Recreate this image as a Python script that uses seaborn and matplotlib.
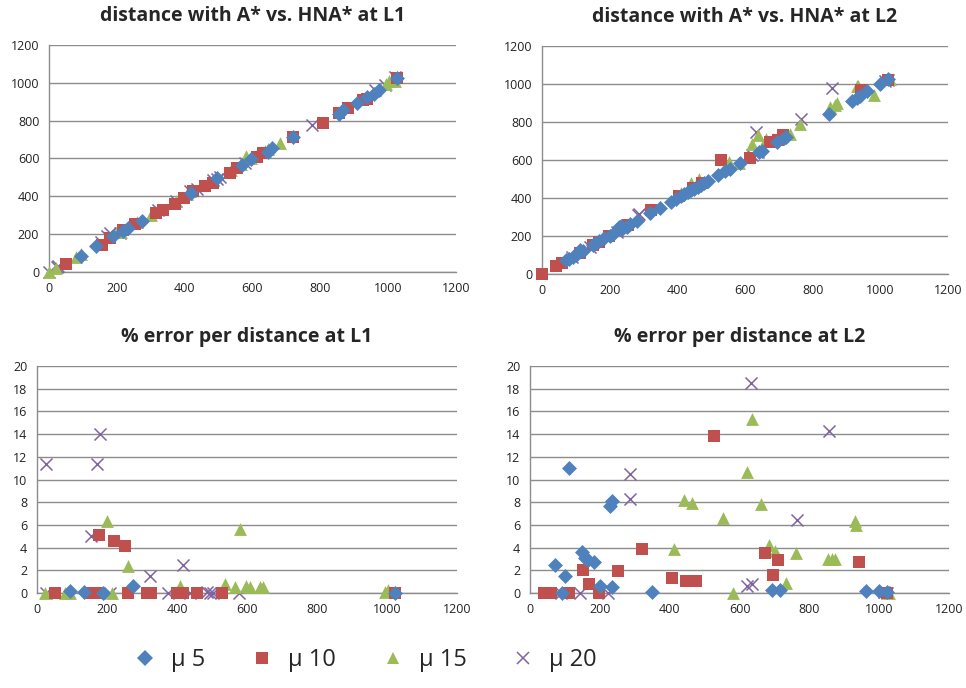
import numpy as np
import pandas as pd
import matplotlib
matplotlib.use("Agg")
import matplotlib.pyplot as plt
import seaborn as sns

sns.set_theme(style="white")
plt.rcParams["font.family"] = ["Open Sans", "DejaVu Sans"]

# ---- data ------------------------------------------------------------------
# top-left: distance A* (x) vs HNA* (y) at L1
L1_MU5_A   = [95, 138, 189, 217, 233, 273, 420, 494, 568, 595, 647, 657, 719, 854, 868, 908, 937, 957, 972, 1026]
L1_MU5_H   = [86, 139, 192, 214, 232, 272, 420, 496, 566, 596, 636, 654, 715, 833, 856, 895, 926, 940, 961, 1023]
L1_MU10_A  = [51, 155, 179, 219, 253, 315, 335, 371, 398, 425, 460, 484, 534, 555, 612, 632, 719, 807, 854, 883, 927, 937, 1026]
L1_MU10_H  = [44, 144, 179, 220, 255, 311, 325, 360, 390, 430, 452, 469, 525, 548, 610, 627, 712, 789, 838, 865, 909, 917, 1023]
L1_MU15_A  = [0, 22, 79, 93, 200, 213, 260, 300, 375, 408, 537, 566, 580, 597, 609, 637, 647, 680, 995, 1004, 1020]
L1_MU15_H  = [0, 22, 79, 93, 213, 213, 266, 300, 375, 410, 541, 569, 613, 600, 612, 642, 652, 680, 996, 1007, 1010]
L1_MU20_A  = [0, 25, 27, 153, 170, 179, 208, 322, 375, 416, 437, 485, 494, 504, 578, 775, 960, 990, 1020]
L1_MU20_H  = [0, 25, 30, 160, 189, 204, 208, 327, 375, 426, 437, 485, 494, 504, 578, 775, 960, 990, 1030]

# top-right: distance A* (x) vs HNA* (y) at L2
L2_MU5_A   = [71, 80, 91, 100, 112, 120, 150, 158, 167, 183, 200, 210, 228, 234, 236, 250, 260, 280, 320,
              348, 380, 395, 410, 420, 430, 440, 450, 460, 470, 480, 490, 520, 540, 555, 585, 640, 650,
              694, 715, 720, 848, 915, 930, 940, 961, 1000, 1023]
L2_MU5_H   = [73, 80, 91, 101, 124, 120, 155, 163, 172, 188, 201, 210, 245, 253, 237, 250, 262, 280, 320,
              348, 380, 395, 410, 420, 430, 440, 450, 460, 470, 480, 490, 520, 540, 555, 585, 640, 650,
              696, 717, 720, 843, 910, 925, 935, 963, 1002, 1024]
L2_MU10_A  = [0, 40, 59, 112, 152, 169, 198, 253, 322, 406, 446, 474, 528, 616, 673, 697, 711, 942, 1023]
L2_MU10_H  = [0, 40, 59, 112, 155, 170, 198, 258, 335, 411, 451, 479, 600, 609, 696, 708, 732, 968, 1023]
L2_MU15_A  = [412, 441, 465, 553, 582, 620, 637, 661, 684, 701, 732, 763, 852, 866, 873, 931, 935, 982, 1023, 1028]
L2_MU15_H  = [428, 477, 502, 589, 582, 686, 734, 713, 713, 727, 739, 790, 878, 892, 899, 990, 991, 944, 1024, 1028]
L2_MU20_A  = [88, 143, 223, 286, 285, 621, 637, 633, 766, 856, 1014, 1023]
L2_MU20_H  = [88, 143, 223, 316, 309, 625, 642, 750, 815, 978, 1015, 1023]

# bottom-left: % error per distance at L1
E1_MU5_D   = [95, 134, 189, 275, 1024]
E1_MU5_E   = [0.2, 0.1, 0.0, 0.65, 0.0]
E1_MU10_D  = [51, 151, 170, 176, 220, 251, 259, 313, 327, 399, 418, 458, 528, 1024]
E1_MU10_E  = [0, 0, 0, 5.1, 4.6, 4.1, 0, 0, 0, 0, 0, 0, 0, 0]
E1_MU15_D  = [22, 79, 93, 200, 213, 260, 408, 537, 566, 580, 597, 609, 637, 647, 995, 1004]
E1_MU15_E  = [0, 0, 0, 6.35, 0, 2.4, 0.6, 0.8, 0.5, 5.6, 0.6, 0.5, 0.5, 0.5, 0.1, 0.3]
E1_MU20_D  = [25, 27, 153, 170, 179, 208, 322, 375, 416, 437, 485, 494, 504, 578]
E1_MU20_E  = [0, 11.4, 5.0, 11.4, 14.0, 0, 1.5, 0, 2.5, 0, 0.1, 0, 0, 0]

# bottom-right: % error per distance at L2
E2_MU5_D   = [71, 91, 100, 112, 150, 158, 167, 183, 200, 228, 234, 236, 348, 694, 715, 961, 1000, 1023]
E2_MU5_E   = [2.5, 0, 1.5, 11.0, 3.6, 3.1, 2.9, 2.7, 0.6, 7.7, 8.1, 0.5, 0.1, 0.3, 0.3, 0.2, 0.2, 0.1]
E2_MU10_D  = [40, 59, 112, 152, 169, 198, 253, 322, 406, 446, 474, 528, 673, 697, 711, 942, 1023]
E2_MU10_E  = [0, 0, 0, 2.0, 0.8, 0, 1.9, 3.9, 1.3, 1.1, 1.05, 13.8, 3.5, 1.6, 2.95, 2.7, 0]
E2_MU15_D  = [412, 441, 465, 553, 582, 620, 637, 661, 684, 701, 732, 763, 852, 866, 873, 931, 935, 1023, 1028]
E2_MU15_E  = [3.9, 8.2, 7.9, 6.6, 0, 10.7, 15.3, 7.8, 4.2, 3.7, 0.9, 3.5, 3.0, 3.0, 3.0, 6.3, 6.0, 0.1, 0]
E2_MU20_D  = [88, 143, 223, 286, 285, 621, 637, 633, 766, 856, 1014, 1023]
E2_MU20_E  = [0, 0, 0, 10.5, 8.3, 0.6, 0.8, 18.5, 6.4, 14.3, 0.1, 0]

LABELS  = ["\u03bc 5", "\u03bc 10", "\u03bc 15", "\u03bc 20"]
COLORS  = ["#4F81BD", "#C0504D", "#9BBB59", "#8064A2"]
MARKERS = ["D", "s", "^", "x"]
SIZES   = [58, 85, 85, 75]

TITLES = ["distance with A* vs. HNA* at L1", "distance with A* vs. HNA* at L2",
          "% error per distance at L1", "% error per distance at L2"]

panels = [
    [(L1_MU5_A, L1_MU5_H), (L1_MU10_A, L1_MU10_H), (L1_MU15_A, L1_MU15_H), (L1_MU20_A, L1_MU20_H)],
    [(L2_MU5_A, L2_MU5_H), (L2_MU10_A, L2_MU10_H), (L2_MU15_A, L2_MU15_H), (L2_MU20_A, L2_MU20_H)],
    [(E1_MU5_D, E1_MU5_E), (E1_MU10_D, E1_MU10_E), (E1_MU15_D, E1_MU15_E), (E1_MU20_D, E1_MU20_E)],
    [(E2_MU5_D, E2_MU5_E), (E2_MU10_D, E2_MU10_E), (E2_MU15_D, E2_MU15_E), (E2_MU20_D, E2_MU20_E)],
]

# axes rectangles in figure fractions (left, bottom, width, height)
RECTS = [
    (0.0507, 0.6047, 0.4213, 0.3299),
    (0.5611, 0.6017, 0.4203, 0.3314),
    (0.0383, 0.1381, 0.4348, 0.3299),
    (0.5487, 0.1381, 0.4337, 0.3299),
]

fig = plt.figure(figsize=(9.66, 6.88), dpi=100)
for k, (rect, series, title) in enumerate(zip(RECTS, panels, TITLES)):
    ax = fig.add_axes(rect)
    for i, (xs, ys) in enumerate(series):
        df = pd.DataFrame({"x": xs, "y": ys})
        kw = dict(linewidth=1.1) if MARKERS[i] == "x" else dict(linewidth=0)
        sns.scatterplot(data=df, x="x", y="y", ax=ax, color=COLORS[i], marker=MARKERS[i],
                        s=SIZES[i], zorder=3 + (3 - i), clip_on=False, **kw)
    ax.set_xlim(0, 1200)
    ax.set_xticks(range(0, 1201, 200))
    if k < 2:
        ax.set_ylim(0, 1200)
        ax.set_yticks(range(0, 1201, 200))
    else:
        ax.set_ylim(0, 20)
        ax.set_yticks(range(0, 21, 2))
    ax.set_xlabel("")
    ax.set_ylabel("")
    ax.grid(axis="y", color="#8c8c8c", linewidth=1.0)
    ax.set_axisbelow(True)
    for side in ["top", "right"]:
        ax.spines[side].set_visible(False)
    for side in ["left", "bottom"]:
        ax.spines[side].set_color("#8c8c8c")
        ax.spines[side].set_linewidth(1.0)
    ax.tick_params(axis="both", direction="out", length=4, width=1, color="#8c8c8c",
                   labelsize=9, labelcolor="#222222", pad=3)
    ax.set_title(title, fontsize=14, fontweight="bold", pad=17)

handles = [plt.Line2D([], [], linestyle="none", marker=m, color=c, markersize=8 if m != "x" else 9,
                      markeredgewidth=1.1 if m == "x" else 0)
           for m, c in zip(MARKERS, COLORS)]
fig.legend(handles, LABELS, loc="center", bbox_to_anchor=(0.378, 0.041), ncol=4,
           frameon=False, fontsize=17, handletextpad=0.6, columnspacing=1.9, handlelength=1.0)

fig.savefig("out.png", dpi=100)
